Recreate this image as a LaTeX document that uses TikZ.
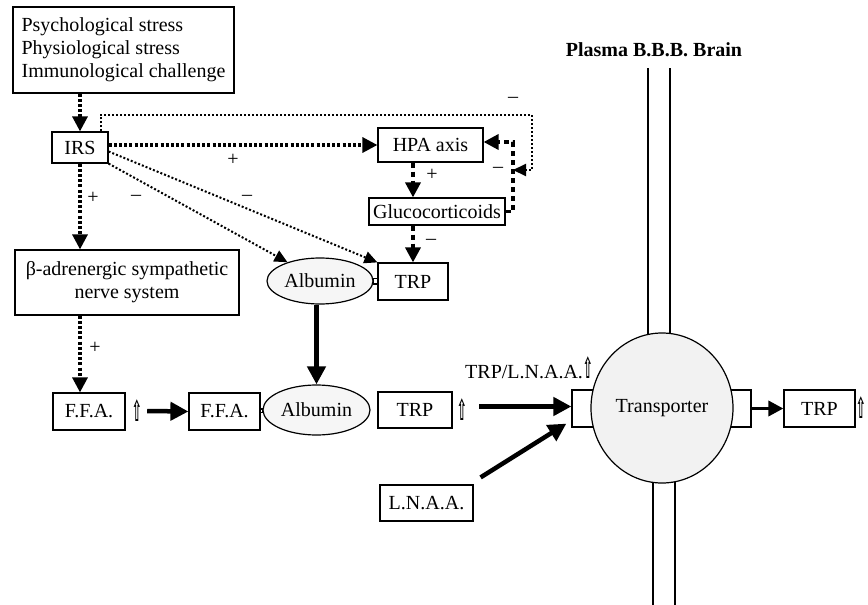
\documentclass[tikz,border=0pt]{standalone}
\usepackage{fontspec}
\setmainfont{Liberation Serif}
\newfontfamily\symf{DejaVu Sans}
\usepackage{graphicx}
\usetikzlibrary{arrows.meta,shapes.geometric}
\newcommand\fs{\fontsize{20}{23}\selectfont}
\newcommand\uparr{{\symf\bfseries\fontsize{20}{20}\selectfont\scalebox{0.6}[1.45]{⇧}}}
\begin{document}
\begin{tikzpicture}[x=1pt,y=-1pt,
 box/.style={draw,line width=1.2pt,inner sep=0pt,font=\fs},
 ell/.style={draw,ellipse,line width=1.2pt,inner sep=0pt,fill=gray!7,font=\fs},
 lbl/.style={font=\fs,inner sep=0pt},
 dthick/.style={line width=3.2pt,dash pattern=on 3pt off 2.2pt,-{Triangle[width=15pt,length=15pt]}},
 dthin/.style={line width=2pt,dash pattern=on 2pt off 2pt,-{Triangle[width=12pt,length=13pt]}},
 dashtwo/.style={line width=3.5pt,dash pattern=on 5pt off 4pt,-{Triangle[width=15pt,length=15pt]}},
 solidtwo/.style={line width=4.5pt,-{Triangle[width=18pt,length=18pt]}},
 bbbline/.style={line width=1.3pt}]
\useasboundingbox (0,0) rectangle (868,605);

% nodes
\node[box,minimum width=221pt,minimum height=86pt,align=left] (top) at (123.5,50) {Psychological stress\\Physiological stress\\Immunological challenge};
\node[box,minimum width=56pt,minimum height=31pt] (irs) at (80,147.5) {IRS};
\node[box,minimum width=105pt,minimum height=34pt] (hpa) at (430.5,145) {HPA axis};
\node[box,minimum width=136pt,minimum height=27pt] (glu) at (437,211.5) {Glucocorticoids};
\node[box,minimum width=70pt,minimum height=37pt] (trp1) at (413,281.5) {TRP};
\node[ell,minimum width=106pt,minimum height=46pt] (alb1) at (320,281) {Albumin};
\node[box,minimum width=224pt,minimum height=65pt,align=center] (beta) at (127,282.5) {β-adrenergic sympathetic\\nerve system};
\node[box,minimum width=72pt,minimum height=37pt] (ffa1) at (89,411.5) {F.F.A.};
\node[lbl] (up1) at (137,411) {\uparr};
\node[box,minimum width=71pt,minimum height=37pt] (ffa2) at (224.5,411.5) {F.F.A.};
\node[ell,minimum width=107pt,minimum height=50pt] (alb2) at (316.5,410) {Albumin};
\node[box,minimum width=74pt,minimum height=36pt] (trp2) at (415,410) {TRP};
\node[lbl] (up2) at (462,410) {\uparr};
\node[lbl,anchor=west] (ratio) at (465,368) {TRP/L.N.A.A.\uparr};
\node[box,minimum width=93pt,minimum height=36pt] (lnaa) at (426.5,503) {L.N.A.A.};

% blood-brain barrier and transporter
\draw[bbbline] (648,68) -- (648,345) (670,68) -- (670,345);
\draw[bbbline] (653,470) -- (653,605) (675,470) -- (675,605);
\node[box,fill=white,minimum width=68pt,minimum height=37pt] (lr) at (606,408.5) {};
\node[box,fill=white,minimum width=67pt,minimum height=37pt] (rr) at (717.5,408.5) {};
\node[ell,fill=gray!10,minimum width=142pt,minimum height=150pt] (tr) at (662,408) {Transporter};
\node[box,minimum width=71pt,minimum height=37pt] (trp3) at (819.5,408.5) {TRP};
\node[lbl] (up3) at (861,408) {\uparr};
\node[lbl,font=\fs\bfseries] (bbb) at (654,50) {Plasma B.B.B. Brain};

% connectors
\draw[dthick] (irs.north |- top.south) -- (irs.north);
\draw[dthick] (irs.east |- hpa.west) -- (hpa.west);
\draw[dthick] (irs.south) -- (irs.south |- beta.north);
\draw[dthick] (irs.south |- beta.south) -- (irs.south |- ffa1.north);
\draw[dthin] ([yshift=-4pt]irs.east) -- (trp1.north west);
\draw[dthin] (irs.south east) -- (alb1.150);
\coordinate (fb) at (513,170);
\coordinate (fbtop) at (513,142);
\draw[dthin] ([xshift=-8pt]irs.north east) |- (532,115) -- (532,170) -- (fb);
\draw[dashtwo] (glu.east) -- (glu.east -| fbtop) -- (fbtop) -- (hpa.east |- fbtop);
\draw[dashtwo] (trp1.north |- hpa.south) -- (trp1.north |- glu.north);
\draw[dashtwo] (trp1.north |- glu.south) -- (trp1.north);
\draw[solidtwo] (alb2.north |- alb1.south) -- (alb2.north);
\draw[line width=1.2pt] ([yshift=2.5pt]alb1.east) rectangle ([yshift=-2.5pt]trp1.west);
\draw[line width=1.2pt] ([yshift=2.5pt]ffa2.east) rectangle ([yshift=-2.5pt]alb2.west);
\draw[solidtwo] ([xshift=5pt]up1.east) -- (ffa2.west);
\draw[solidtwo] ([xshift=12pt,yshift=2pt]up2.east |- lr.west) -- ([yshift=2pt]lr.west);
\draw[solidtwo] ([shift={(7pt,7pt)}]lnaa.north east) -- ([xshift=-5pt,yshift=4pt]lr.south west);
\draw[line width=3.5pt,-{Triangle[width=15pt,length=15pt]}] (rr.east) -- (trp3.west);

% signs
\node[lbl] (s1) at (233,160) {+};
\node[lbl] (s2) at (93,198) {+};
\node[lbl] (s3) at (136,198) {–};
\node[lbl] (s4) at (247,198) {–};
\node[lbl] (s5) at (513,100) {–};
\node[lbl] (s6) at (432,175) {+};
\node[lbl] (s7) at (498,170) {–};
\node[lbl] (s8) at (431,242) {–};
\node[lbl] (s9) at (95,348) {+};
\end{tikzpicture}
\end{document}
